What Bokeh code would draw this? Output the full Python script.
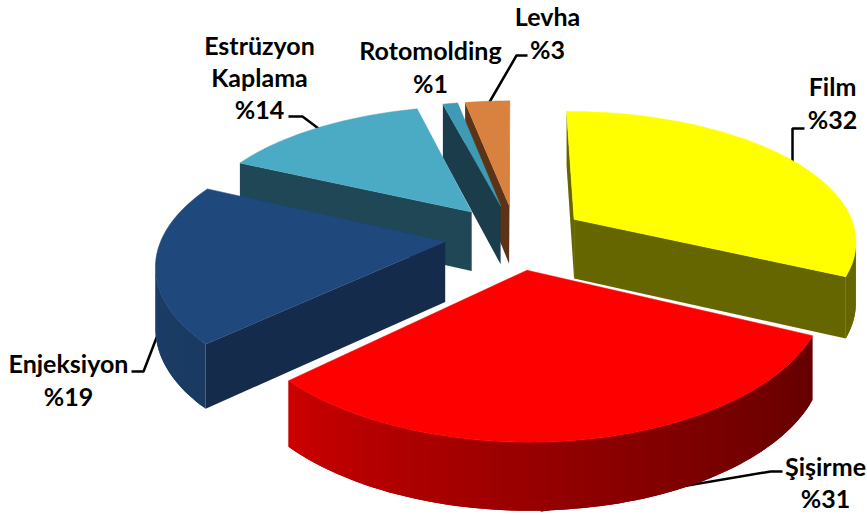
import math
from bokeh.plotting import figure
from bokeh.models import Range1d
from bokeh.core.properties import value
from bokeh.embed import file_html
from bokeh.resources import INLINE

categories = ["Film", "Şişirme", "Enjeksiyon", "Estrüzyon\nKaplama", "Rotomolding", "Levha"]
shares = [32, 31, 19, 14, 1, 3]
top_colors = ["#ffff00", "#ff0000", "#1f497d", "#4babc5", "#3f9ab5", "#d9813f"]
wall_colors = ["#666600", "#600000", "#152b4b", "#1f4755", "#1a3c4b", "#5c3317"]
rim_start = ["#666600", "#660000", "#1a3a62", "#1f4755", "#1a3c4b", "#5c3317"]
rim_end = ["#666600", "#cc0000", "#1f4470", "#1f4755", "#1a3c4b", "#5c3317"]

W, H = 867, 515
CX, CY, A, B, K, KX, KH, DEPTH, EXPLODE = 515, 236, 283, 131, 0.165, 0.15, 0.10, 60, 0.25


def hexrgb(c):
    return [int(c[i:i + 2], 16) for i in (1, 3, 5)]


def mix(c0, c1, t):
    a, b = hexrgb(c0), hexrgb(c1)
    return "#%02x%02x%02x" % tuple(round(a[i] + (b[i] - a[i]) * t) for i in range(3))


def project(u, v, base):
    px = CX + A * u / (1 + KX * v)
    py = CY - B * v / (1 + K * v)
    if base:
        py += DEPTH / (1 + KH * v)
    return px, H - py


def area(q):
    return sum(q[i][0] * q[(i + 1) % len(q)][1] - q[(i + 1) % len(q)][0] * q[i][1] for i in range(len(q)))


p = figure(width=W, height=H, output_backend="svg", toolbar_location=None,
           x_range=Range1d(0, W), y_range=Range1d(0, H), min_border=0)
p.axis.visible = False
p.grid.visible = False
p.outline_line_color = None

leaders = [
    ([792, 792, 804], [165, 128, 128]),
    ([487, 516, 527], [105, 55, 55]),
    ([165, 143, 131], [314, 371, 371]),
    ([288, 302, 322], [116, 116, 131]),
    ([540, 770, 782], [510, 471, 471]),
]
for lx, ly in leaders:
    p.line(lx, [H - y for y in ly], line_color="#000000", line_width=2.5)

total = sum(shares)
spans = []
start = 0
for s in shares:
    spans.append((start, start + s / total * 360))
    start += s / total * 360

for i in [5, 4, 3, 0, 2, 1]:
    a0, a1 = spans[i]
    mid = math.radians((a0 + a1) / 2)
    ox, oy = EXPLODE * math.sin(mid), EXPLODE * math.cos(mid)
    n = max(2, int((a1 - a0) / 1.5))
    rim = []
    for j in range(n + 1):
        t = math.radians(a0 + (a1 - a0) * j / n)
        rim.append((ox + math.sin(t), oy + math.cos(t)))
    apex = (ox, oy)
    xs, ys, cols = [], [], []

    def add(pts_t, pts_b, col):
        q = [project(*c, False) for c in pts_t] + [project(*c, True) for c in reversed(pts_b)]
        if area(q) > 0:
            xs.append([c[0] for c in q])
            ys.append([c[1] for c in q])
            cols.append(col)

    add([apex, rim[0]], [apex, rim[0]], wall_colors[i])
    add([rim[-1], apex], [rim[-1], apex], wall_colors[i])
    for j in range(n):
        col = mix(rim_start[i], rim_end[i], (j / n) ** 1.3)
        seg = rim[j:j + 3]
        add(seg, seg, col)
    p.patches(xs, ys, fill_color=cols, line_color=None)
    face = [project(*apex, False)] + [project(*r, False) for r in rim]
    p.patch([c[0] for c in face], [c[1] for c in face], fill_color=top_colors[i],
            line_color=top_colors[i], line_width=0.5)

labels = [
    (categories[0], shares[0], 832, 85, 33),
    (categories[1], shares[1], 825, 465, 32),
    (categories[2], shares[2], 68, 362, 33),
    (categories[3], shares[3], 259, 44, 32),
    (categories[4], shares[4], 430, 49, 33),
    (categories[5], shares[5], 547, 15, 33),
]
for name, val, lx, ly, step in labels:
    rows = name.split("\n") + ["%" + "%d" % val]
    for r, row in enumerate(rows):
        p.text([lx], [H - (ly + r * step)], text=[row], text_font=value("Lato"),
               text_font_style="bold", text_font_size="25px", text_align="center",
               text_baseline="middle", text_color="#000000")

open("out.html", "w").write(file_html(p, INLINE))
